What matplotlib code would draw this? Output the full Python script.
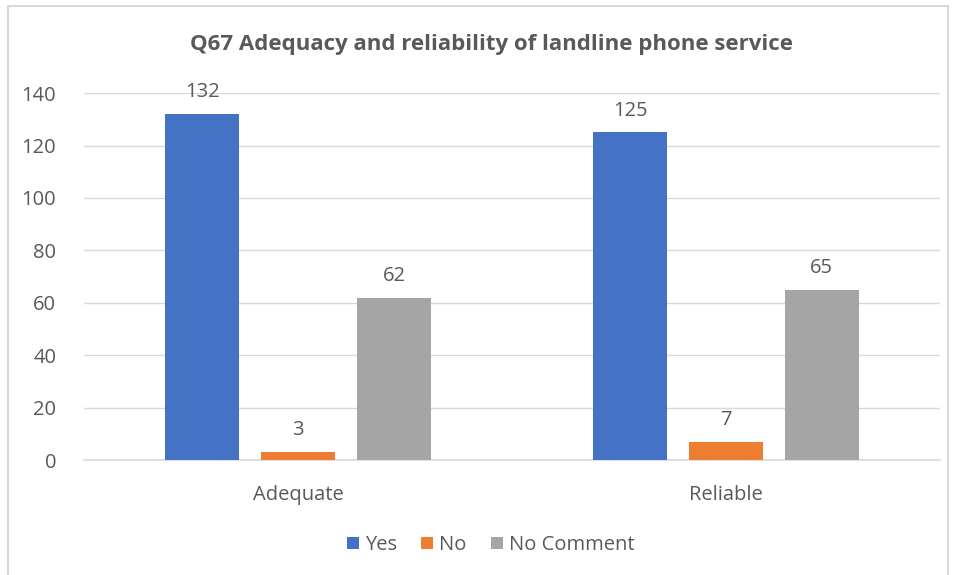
import numpy as np
import matplotlib.pyplot as plt
from matplotlib.patches import Rectangle

categories = ['Adequate', 'Reliable']
series = ['Yes', 'No', 'No Comment']
yes_vals = [132, 125]
no_vals = [3, 7]
nocomment_vals = [62, 65]
colors = ['#4472C4', '#ED7D31', '#A5A5A5']

plt.rcParams['font.family'] = ['Open Sans', 'DejaVu Sans']
txt = '#595959'

fig = plt.figure(figsize=(9.58, 5.75), dpi=100)
ax = fig.add_axes([0.0877, 0.2, 0.8935, 0.638])

x = np.arange(len(categories))
width = 0.173
step = 0.224
for i, (vals, name) in enumerate(zip([yes_vals, no_vals, nocomment_vals], series)):
    bars = ax.bar(x + (i - 1) * step, vals, width, color=colors[i], label=name, zorder=3)
    for b, v in zip(bars, vals):
        ax.text(b.get_x() + b.get_width() / 2, v + 4.5, str(v), ha='center', va='bottom',
                fontsize=14.5, color=txt)

ax.set_xlim(-0.5, 1.5)
ax.set_ylim(0, 140)
ax.set_yticks(range(0, 141, 20))
ax.set_xticks(x)
ax.set_xticklabels(categories)
ax.yaxis.grid(True, color='#D9D9D9', linewidth=1, zorder=0)
for s in ['top', 'right', 'left']:
    ax.spines[s].set_visible(False)
ax.spines['bottom'].set_color('#D9D9D9')
ax.spines['bottom'].set_linewidth(1.2)
ax.tick_params(axis='y', length=0, pad=20, labelsize=14.5, labelcolor=txt)
ax.tick_params(axis='x', length=0, pad=18, labelsize=14.5, labelcolor=txt)

fig.text(0.513, 0.923, 'Q67 Adequacy and reliability of landline phone service',
         ha='center', va='center', fontsize=16, fontweight='bold', color=txt)

fig.legend(loc='center', bbox_to_anchor=(0.512, 0.052), ncol=3, frameon=False,
           fontsize=14.5, labelcolor=txt, handlelength=0.6, handleheight=0.6,
           handletextpad=0.3, columnspacing=1.2)

fig.patches.append(Rectangle((8 / 958, -0.01), 940 / 958, 1 - 6 / 575 + 0.01,
                             transform=fig.transFigure, fill=False,
                             edgecolor='#D9D9D9', linewidth=1.5))

fig.savefig('out.png')
